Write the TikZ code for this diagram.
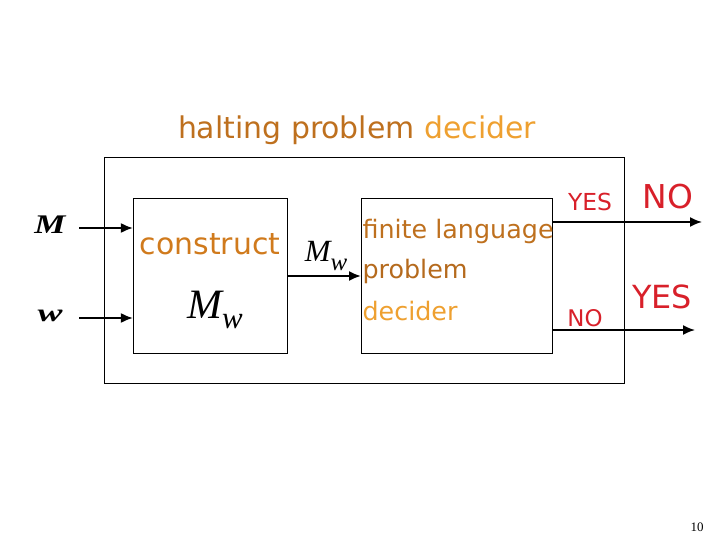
\documentclass[tikz,border=0pt]{standalone}
\usepackage{fontspec}
\setmainfont{Liberation Serif}
\newfontfamily\comic{DejaVu Sans}
\usetikzlibrary{arrows.meta,positioning}
\definecolor{brownish}{HTML}{BE701E}
\definecolor{orangeish}{HTML}{EEA030}
\definecolor{constr}{HTML}{D07A1C}
\definecolor{answer}{HTML}{D8202A}
\tikzset{
  box/.style={draw,line width=0.8pt,minimum width=#1},
  arr/.style={line width=1.8pt,-{Latex[length=12pt,width=10pt]}},
  say/.style={font=\comic\fontsize{#1}{#1}\selectfont},
  sym/.style={font=\fontsize{#1}{#1}\selectfont\itshape},
  boldsym/.style={font=\fontsize{#1}{#1}\selectfont\bfseries\itshape},
}
\newcommand{\Mw}[2]{M\raisebox{-#2bp}{\fontsize{#1}{#1}\selectfont w}}
\begin{document}
\begin{tikzpicture}[x=1bp,y=-1bp]
  \useasboundingbox (0,0) rectangle (720,540);
  \node[say=30] (title) at (357,130) {{\color{brownish}halting problem} {\color{orangeish}decider}};
  \node[box=522,minimum height=227] (outer) at (364,270.5) {};
  \node[box=155,minimum height=156] (cbox) at (210.5,276) {};
  \node[box=192,minimum height=156] (dbox) at (457,276) {};
  % inputs
  \node[boldsym=27,xscale=1.3,transform shape] (lblM) at (50,225) {M};
  \node[boldsym=25,xscale=1.5,transform shape] (lblw) at (50,316) {w};
  \coordinate (inM) at (79,228);
  \coordinate (inw) at (79,318);
  \draw[arr] (inM) -- (inM -| cbox.west);
  \draw[arr] (inw) -- (inw -| cbox.west);
  % construct box
  \node[say=30,text=constr] (constr) at (210,244) {construct};
  \node[sym=42] (mwin) at (215,310) {\Mw{31}{10}};
  \draw[arr] (cbox.east) -- (dbox.west);
  \node[sym=31] (mwlbl) at (326,256) {\Mw{25}{9}};
  % decider box
  \node[say=25.5,anchor=west,text=brownish] (fin) at (359,231) {finite language};
  \node[say=25.5,anchor=west,text=brownish!95!black] (prob) at (359,271) {problem};
  \node[say=25.5,anchor=west,text=orangeish] (dec) at (359,311) {decider};
  % outputs
  \coordinate (outY) at (702,222);
  \coordinate (outN) at (695,330);
  \draw[arr] (dbox.east |- outY) -- (outY);
  \draw[arr] (dbox.east |- outN) -- (outN);
  \node[say=23.5,text=answer] (yesS) at (590,202) {YES};
  \node[say=23,text=answer] (noS) at (585,318) {NO};
  \node[say=33,text=answer] (noB) at (668,197) {NO};
  \node[say=32,text=answer] (yesB) at (662,297) {YES};
  \node[font=\fontsize{13}{13}\selectfont] (page) at (697,527) {10};
\end{tikzpicture}
\end{document}
